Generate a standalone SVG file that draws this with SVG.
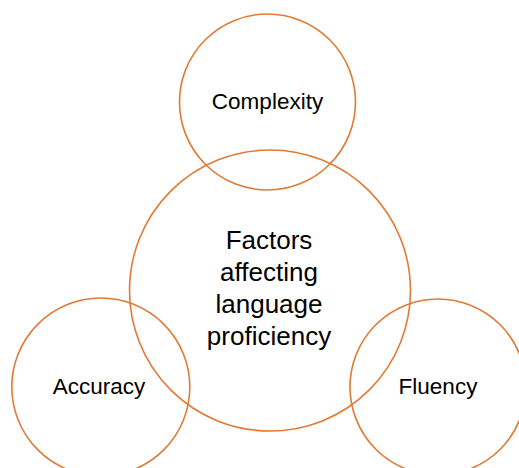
<svg xmlns="http://www.w3.org/2000/svg" width="519" height="468" viewBox="0 0 519 468">
<style>
.c{fill:none;stroke:#E07A35;stroke-width:1.6}
.t{font-family:"Liberation Sans",Arial,sans-serif;fill:#000;text-anchor:middle}
.s{font-size:22.5px}
.b{font-size:26px}
</style>
<rect width="519" height="468" fill="#fff"/>
<g id="complexity">
<circle class="c" cx="267.5" cy="102" r="88"/>
<text class="t s" x="267.5" y="109">Complexity</text>
</g>
<g id="factors">
<circle class="c" cx="270" cy="290.5" r="140.5"/>
<text class="t b" x="269" y="249">Factors</text>
<text class="t b" x="269" y="281">affecting</text>
<text class="t b" x="269" y="313">language</text>
<text class="t b" x="269" y="345">proficiency</text>
</g>
<g id="accuracy">
<circle class="c" cx="100.8" cy="387" r="89"/>
<text class="t s" x="99" y="394">Accuracy</text>
</g>
<g id="fluency">
<circle class="c" cx="438" cy="387" r="88"/>
<text class="t s" x="438" y="394">Fluency</text>
</g>
<g id="connectors"></g>
</svg>
